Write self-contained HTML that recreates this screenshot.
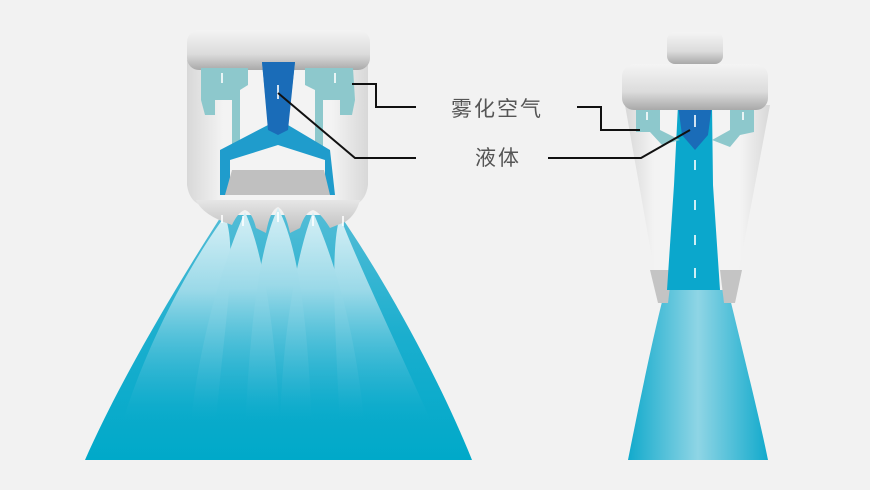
<!DOCTYPE html>
<html><head><meta charset="utf-8"><style>
html,body{margin:0;padding:0;background:#f2f2f2;}
svg{display:block}
text{font-family:"Liberation Sans","Noto Sans CJK SC",sans-serif;fill:#555;font-size:21px}
</style></head><body>
<svg width="870" height="490" viewBox="0 0 870 490" xmlns="http://www.w3.org/2000/svg">
<defs>
<linearGradient id="cap" x1="0" y1="0" x2="0" y2="1"><stop offset="0" stop-color="#f4f4f4"/><stop offset="0.6" stop-color="#dcdcdc"/><stop offset="1" stop-color="#a9a9a9"/></linearGradient>
<linearGradient id="body" x1="0" y1="0" x2="1" y2="0"><stop offset="0" stop-color="#d8d8d8"/><stop offset="0.2" stop-color="#f3f3f3"/><stop offset="0.8" stop-color="#f3f3f3"/><stop offset="1" stop-color="#d8d8d8"/></linearGradient>
<linearGradient id="spray" x1="0" y1="0" x2="0" y2="1"><stop offset="0" stop-color="#52bcd6"/><stop offset="0.5" stop-color="#1aaece"/><stop offset="1" stop-color="#00a9c9"/></linearGradient>
<linearGradient id="plume" x1="0" y1="0" x2="0" y2="1"><stop offset="0" stop-color="#d6f0f6"/><stop offset="0.35" stop-color="#9ad9e8"/><stop offset="0.8" stop-color="#2db4d2" stop-opacity="0.5"/><stop offset="1" stop-color="#00a9c9" stop-opacity="0"/></linearGradient>
<linearGradient id="rs" x1="0" y1="0" x2="1" y2="0"><stop offset="0" stop-color="#12aacc"/><stop offset="0.5" stop-color="#8fd5e5"/><stop offset="1" stop-color="#12aacc"/></linearGradient>
<linearGradient id="dome" x1="0" y1="0" x2="0" y2="1"><stop offset="0" stop-color="#e6e6e6"/><stop offset="1" stop-color="#bdbdbd"/></linearGradient>
</defs>
<!-- LEFT NOZZLE -->
<path d="M222,215 C180,280 120,380 85,460 L472,460 C440,380 385,280 340,215 Z" fill="url(#spray)"/>
<g fill="url(#plume)">
<path d="M225,216 C200,250 150,330 120,430 L215,430 C225,320 238,250 225,216Z"/>
<path d="M340,216 C352,250 390,330 435,430 L340,430 C335,320 330,250 340,216Z"/>
<path d="M245,212 C228,250 200,330 190,430 L280,430 C275,320 262,250 245,212Z"/>
<path d="M313,212 C298,250 282,330 280,430 L365,430 C355,320 330,250 313,212Z"/>
<path d="M278,208 C258,250 250,330 245,430 L312,430 C308,330 300,250 278,208Z"/>
</g>
<path d="M187,60 L368,60 L368,185 Q366,200 355,205 L200,205 Q189,200 187,185 Z" fill="url(#body)"/>
<path d="M196,200 L360,200 Q356,215 345,222 L330,228 Q320,212 313,210 Q305,212 300,228 L290,233 Q285,210 278,207 Q270,210 266,233 L256,228 Q252,212 245,210 Q238,212 232,225 Q202,215 196,200Z" fill="url(#dome)"/>
<rect x="187" y="30" width="183" height="40" rx="12" fill="url(#cap)"/>
<!-- internal channels -->
<path d="M201,68 L248,68 L248,85 L240,90 L240,150 L232,150 L232,100 L215,100 L215,115 L205,115 L201,100Z" fill="#8dc8cc"/>
<path d="M353,68 L305,68 L305,85 L315,90 L315,150 L323,150 L323,100 L340,100 L340,115 L352,115 L355,100Z" fill="#8dc8cc"/>
<path d="M262,62 L295,62 L288,125 L330,150 L335,195 L325,195 L325,160 L278,145 L230,160 L230,195 L220,195 L220,150 L268,125Z" fill="#1f9ccc"/>
<path d="M262,62 L295,62 L288,130 L278,135 L268,130Z" fill="#1a6cb8"/>
<path d="M232,170 L324,170 L330,195 L225,195Z" fill="#c0c0c0"/>
<g stroke="#fff" stroke-width="1.6" fill="none"><path d="M222,73v10M278,85v14M335,73v10M222,215v8M243,216v10M278,212v10M313,216v10M343,216v10"/></g>
<!-- RIGHT NOZZLE -->
<path d="M665,290 L728,290 C740,340 760,420 768,460 L628,460 C636,420 652,340 665,290Z" fill="url(#rs)"/>
<path d="M625,105 L770,105 L738,275 L655,275 Z" fill="url(#body)"/>
<path d="M650,270 L672,270 L668,303 L658,303Z" fill="#c4c4c4"/>
<path d="M720,270 L742,270 L735,303 L724,303Z" fill="#c4c4c4"/>
<path d="M678,105 L712,105 L713,185 L720,290 L667,290 L674,185Z" fill="#0ba7cc"/>
<path d="M678,105 L712,105 L708,135 L695,150 L682,135Z" fill="#1a6cb8"/>
<path d="M636,108 L660,108 L660,130 L680,140 L662,145 L650,132 L636,132Z" fill="#8dc8cc"/>
<path d="M754,108 L730,108 L730,130 L712,140 L730,147 L740,135 L754,132Z" fill="#8dc8cc"/>
<rect x="667" y="32" width="56" height="32" rx="8" fill="url(#cap)"/>
<rect x="622" y="64" width="146" height="46" rx="12" fill="url(#cap)"/>
<g stroke="#fff" stroke-width="1.6" fill="none"><path d="M695,115v12M695,160v10M695,200v10M695,235v10M695,268v10M647,112v8M743,112v8"/></g>
<!-- leaders -->
<g stroke="#111" stroke-width="2" fill="none">
<path d="M352,84H376V107H416"/>
<path d="M278,93L355,158H416"/>
<path d="M577,107H601V130H640"/>
<path d="M548,158H641L690,130"/>
</g>
<text x="451" y="116" letter-spacing="2">雾化空气</text>
<text x="475" y="165" letter-spacing="2">液体</text>
</svg>
</body></html>
